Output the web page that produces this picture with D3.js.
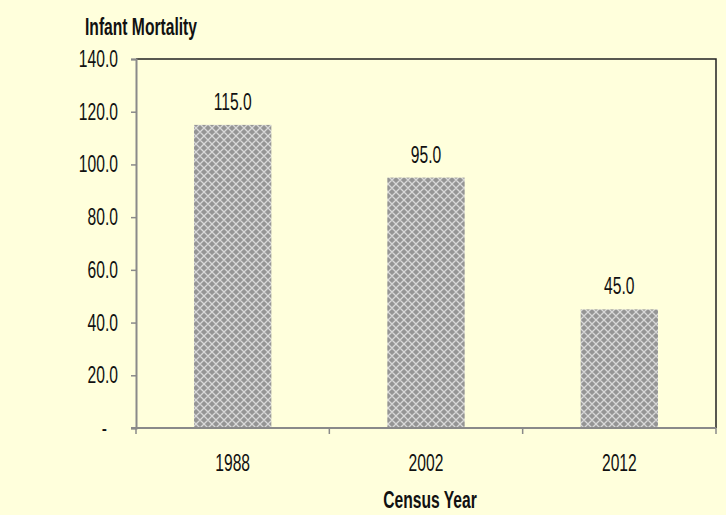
<!DOCTYPE html>
<html lang="en">
  <head>
    <meta charset="UTF-8" />
    <title>Infant Mortality by Census Year</title>
    <style>
      html, body { margin: 0; padding: 0; background: #ffffdc; }
      svg text { font-family: "Liberation Sans", Arial, sans-serif; fill: #111; }
    </style>
  </head>
  <body>
    <div id="chart"></div>

    <script src="https://d3js.org/d3.v7.min.js"></script>
    <script>
      // chart data
      const years = ["1988", "2002", "2012"];
      const mortality = [115.0, 95.0, 45.0];
      const yTicks = [0, 20, 40, 60, 80, 100, 120, 140];

      const w = 726;
      const h = 515;
      const margin = { top: 59, right: 10, bottom: 87, left: 136 };
      const squeeze = 0.68; // narrow type, like the original
      const fontSize = "23px";

      const svg = d3
        .select("#chart")
        .append("svg")
        .attr("width", w)
        .attr("height", h);

      // place a text squeezed horizontally around its anchor point
      function narrow(sel, x, y) {
        sel.attr("x", 0).attr("y", 0).attr("transform", (d, i) => {
          const px = typeof x === "function" ? x(d, i) : x;
          const py = typeof y === "function" ? y(d, i) : y;
          return `translate(${px},${py}) scale(${squeeze},1)`;
        });
        return sel;
      }

      // bar fill pattern (grey diamond lattice)
      const pat = svg
        .append("defs")
        .append("pattern")
        .attr("id", "lattice")
        .attr("width", 8)
        .attr("height", 8)
        .attr("patternUnits", "userSpaceOnUse");
      pat.append("rect").attr("width", 8).attr("height", 8).attr("fill", "#959595");
      pat
        .append("path")
        .attr("d", "M0,4 L4,0 L8,4 L4,8 Z")
        .attr("fill", "none")
        .attr("stroke", "#d8d8d8")
        .attr("stroke-width", 1.3);

      const plotLeft = margin.left;
      const plotRight = w - margin.right;
      const plotTop = margin.top;
      const plotBottom = h - margin.bottom;

      const xScale = d3
        .scaleBand()
        .domain(years)
        .range([plotLeft, plotRight])
        .paddingInner(0.6)
        .paddingOuter(0.3);

      const yScale = d3
        .scaleLinear()
        .domain([0, 140])
        .range([plotBottom, plotTop]);

      // top and right border of the plot area
      svg
        .append("path")
        .attr("d", `M${plotLeft},${plotTop}H${plotRight}V${plotBottom}`)
        .attr("fill", "none")
        .attr("stroke", "#222")
        .attr("stroke-width", 1.5);

      // bars
      svg
        .selectAll("rect.bar")
        .data(mortality)
        .enter()
        .append("rect")
        .attr("class", "bar")
        .attr("x", (d, i) => xScale(years[i]))
        .attr("y", (d) => yScale(d))
        .attr("width", xScale.bandwidth())
        .attr("height", (d) => yScale(0) - yScale(d))
        .attr("fill", "url(#lattice)");

      // value labels
      svg
        .selectAll("text.value")
        .data(mortality)
        .enter()
        .append("text")
        .attr("class", "value")
        .attr("text-anchor", "middle")
        .style("font-size", fontSize)
        .text((d) => d.toFixed(1))
        .call(narrow, (d, i) => xScale(years[i]) + xScale.bandwidth() / 2, (d) => yScale(d) - 15);

      // y-axis
      const yAxis = svg
        .append("g")
        .attr("id", "y-axis")
        .attr("transform", `translate(${plotLeft}, 0)`)
        .call(d3.axisLeft(yScale).tickValues(yTicks).tickSize(5).tickFormat(""));
      yAxis.select(".domain").attr("stroke", "#8a8a8a").attr("stroke-width", 2);
      yAxis.selectAll(".tick line").attr("stroke", "#8a8a8a").attr("stroke-width", 1.5);

      svg
        .append("g")
        .selectAll("text")
        .data(yTicks)
        .enter()
        .append("text")
        .attr("text-anchor", "end")
        .style("font-size", fontSize)
        .text((d) => (d === 0 ? "-" : d.toFixed(1)))
        .call(narrow, (d) => (d === 0 ? plotLeft - 29 : plotLeft - 18), (d) => yScale(d) + 8);

      // x-axis: ticks sit on category boundaries
      const bounds = d3
        .range(years.length + 1)
        .map((i) => plotLeft + (i * (plotRight - plotLeft)) / years.length);
      const xAxis = svg.append("g").attr("id", "x-axis");
      xAxis
        .append("line")
        .attr("x1", plotLeft - 5)
        .attr("x2", plotRight)
        .attr("y1", plotBottom)
        .attr("y2", plotBottom)
        .attr("stroke", "#8a8a8a")
        .attr("stroke-width", 2);
      xAxis
        .selectAll("line.tick")
        .data(bounds)
        .enter()
        .append("line")
        .attr("class", "tick")
        .attr("x1", (d) => d)
        .attr("x2", (d) => d)
        .attr("y1", plotBottom)
        .attr("y2", plotBottom + 6)
        .attr("stroke", "#8a8a8a")
        .attr("stroke-width", 1.5);
      xAxis
        .selectAll("text")
        .data(years)
        .enter()
        .append("text")
        .attr("text-anchor", "middle")
        .style("font-size", fontSize)
        .text((d) => d)
        .call(narrow, (d) => xScale(d) + xScale.bandwidth() / 2, plotBottom + 43);

      // axis titles
      svg
        .append("text")
        .attr("text-anchor", "middle")
        .style("font-size", fontSize)
        .style("font-weight", "bold")
        .text("Infant Mortality")
        .call(narrow, 141, 35);

      svg
        .append("text")
        .attr("text-anchor", "middle")
        .style("font-size", fontSize)
        .style("font-weight", "bold")
        .text("Census Year")
        .call(narrow, 430, 508);
    </script>
  </body>
</html>
